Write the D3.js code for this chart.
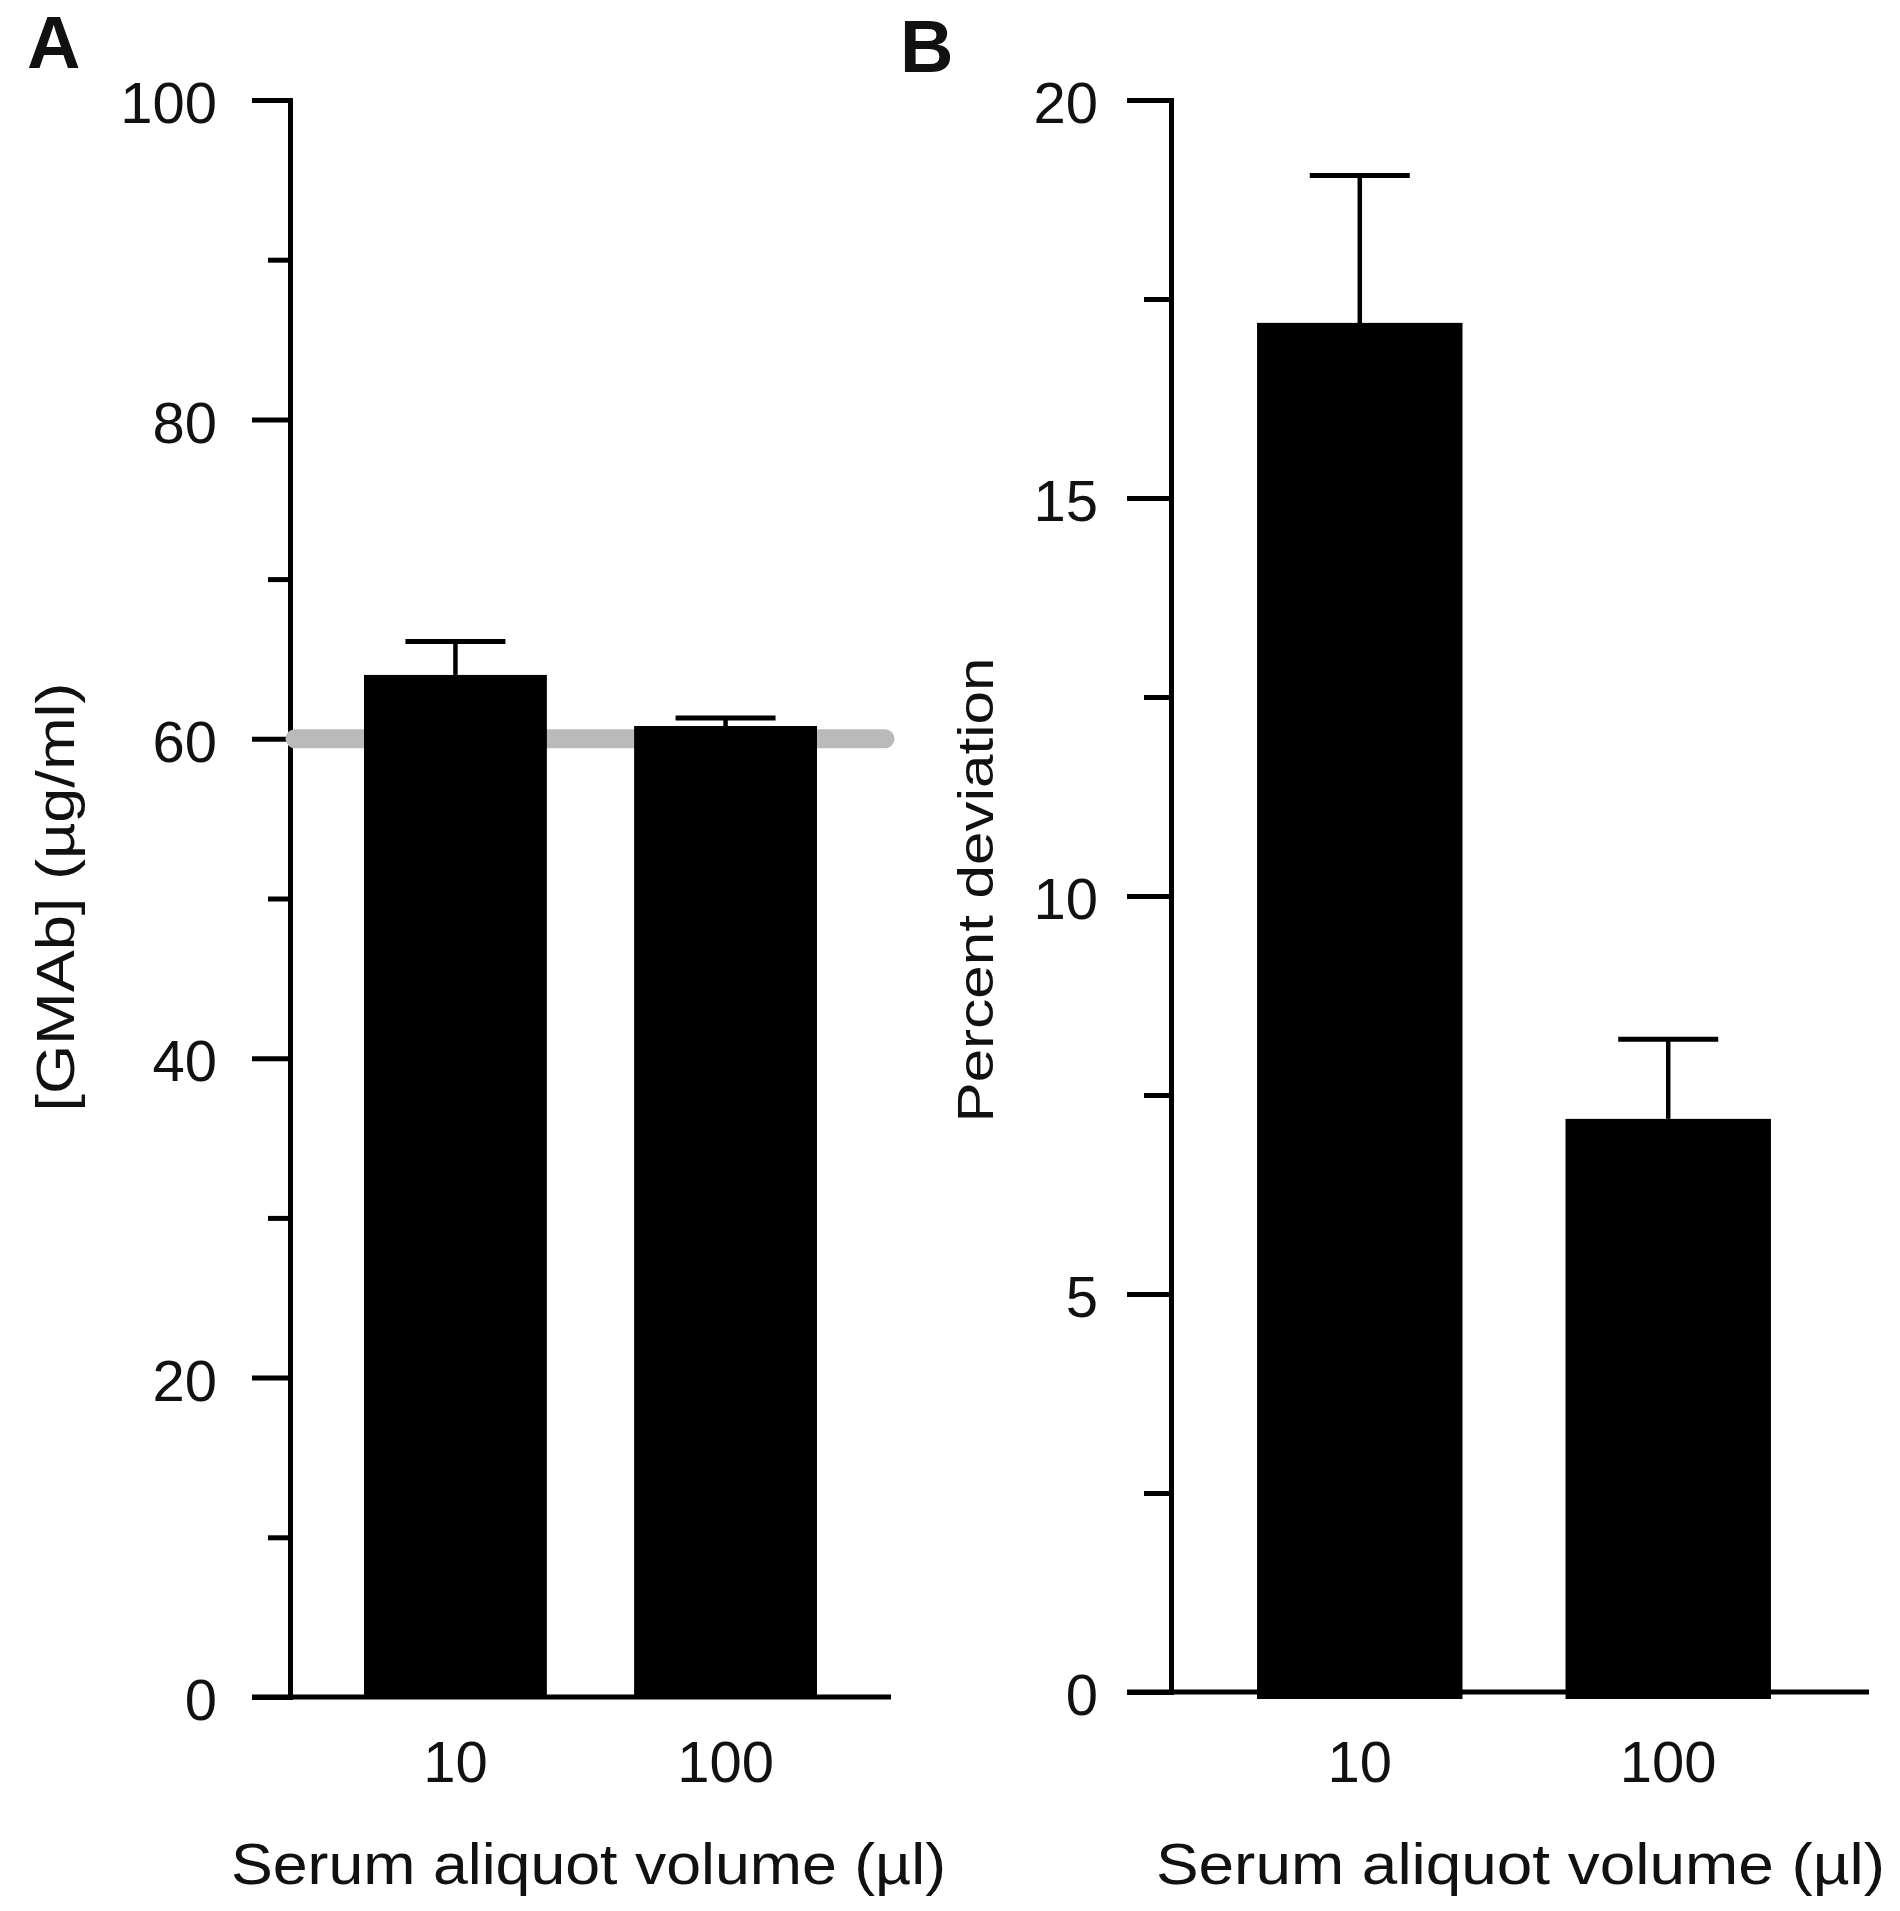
<!DOCTYPE html>
<html>
<head>
<meta charset="utf-8">
<script src="https://cdn.jsdelivr.net/npm/d3@7"></script>
<style>
  html, body { margin: 0; padding: 0; background: #ffffff; }
  svg { display: block; }
  text { font-family: "Liberation Sans", Arial, sans-serif; fill: #111; }
</style>
</head>
<body>
<script>
// ---------------- data ----------------
const categories = ["10", "100"];
const gmabMeans = [64.0, 60.8];
const gmabErrors = [2.1, 0.5];
const nominalConcentration = 60;
const deviationMeans = [17.2, 7.2];
const deviationErrors = [1.85, 1.0];
const yTicksA = [0, 20, 40, 60, 80, 100];
const yMinorTicksA = [10, 30, 50, 70, 90];
const yTicksB = [0, 5, 10, 15, 20];
const yMinorTicksB = [2.5, 7.5, 12.5, 17.5];
const xTitle = "Serum aliquot volume (\u00b5l)";
const yTitleA = "[GMAb] (\u00b5g/ml)";
const yTitleB = "Percent deviation";

// ---------------- layout ----------------
const W = 1900, H = 1911;
const svg = d3.select("body").append("svg").attr("width", W).attr("height", H);
svg.append("rect").attr("width", W).attr("height", H).attr("fill", "#ffffff");

const LW = 5;

function panel(cfg) {
  const g = svg.append("g");
  const x = d3.scaleBand().domain(categories).range(cfg.xRange)
    .paddingInner(cfg.padIn).paddingOuter(cfg.padOut);
  const y = d3.scaleLinear().domain(cfg.yDomain).range(cfg.yRange);

  // x baseline (extends left to act as 0 tick)
  g.append("line")
    .attr("x1", cfg.xRange[0] - cfg.majorLen).attr("x2", cfg.xLineEnd)
    .attr("y1", y(0)).attr("y2", y(0))
    .attr("stroke", "#000").attr("stroke-width", LW);

  // y axis major
  const ax = g.append("g").attr("transform", `translate(${cfg.xRange[0]},0)`)
    .call(d3.axisLeft(y).tickValues(cfg.major).tickSize(cfg.majorLen)
      .tickSizeOuter(0).tickPadding(cfg.labelPad).tickFormat(d3.format("d")));
  ax.select(".domain").attr("stroke", "#000").attr("stroke-width", LW).attr("stroke-linecap", "square");
  ax.selectAll(".tick line").attr("stroke", "#000").attr("stroke-width", LW);
  ax.selectAll(".tick text").attr("font-size", 58).attr("dy", "0.39em")
    .attr("font-family", "'Liberation Sans', Arial, sans-serif").attr("fill", "#111");

  // y axis minor
  const axm = g.append("g").attr("transform", `translate(${cfg.xRange[0]},0)`)
    .call(d3.axisLeft(y).tickValues(cfg.minor).tickSize(cfg.minorLen).tickSizeOuter(0).tickFormat(""));
  axm.select(".domain").remove();
  axm.selectAll(".tick line").attr("stroke", "#000").attr("stroke-width", LW);

  if (cfg.refLine !== undefined) {
    g.append("line")
      .attr("x1", cfg.xRange[0] + 5).attr("x2", cfg.xRange[1] - 6)
      .attr("y1", y(cfg.refLine)).attr("y2", y(cfg.refLine))
      .attr("stroke", "#bababa").attr("stroke-width", 19).attr("stroke-linecap", "round");
  }

  // bars
  g.selectAll("rect.bar").data(cfg.means).enter().append("rect")
    .attr("class", "bar")
    .attr("x", (d, i) => x(categories[i]))
    .attr("width", x.bandwidth())
    .attr("y", d => y(d))
    .attr("height", d => y(0) - y(d) + cfg.barBelow)
    .attr("fill", "#000");

  // error bars (upper only)
  const eb = g.selectAll("g.err").data(cfg.means).enter().append("g").attr("class", "err");
  eb.append("line")
    .attr("x1", (d, i) => x(categories[i]) + x.bandwidth() / 2)
    .attr("x2", (d, i) => x(categories[i]) + x.bandwidth() / 2)
    .attr("y1", d => y(d))
    .attr("y2", (d, i) => y(d + cfg.errs[i]))
    .attr("stroke", "#000").attr("stroke-width", 4.5);
  eb.append("line")
    .attr("x1", (d, i) => x(categories[i]) + x.bandwidth() / 2 - 50)
    .attr("x2", (d, i) => x(categories[i]) + x.bandwidth() / 2 + 50)
    .attr("y1", (d, i) => y(d + cfg.errs[i]))
    .attr("y2", (d, i) => y(d + cfg.errs[i]))
    .attr("stroke", "#000").attr("stroke-width", 5);

  // x tick labels
  g.selectAll("text.xl").data(categories).enter().append("text")
    .attr("class", "xl")
    .attr("x", d => x(d) + x.bandwidth() / 2)
    .attr("y", cfg.xLabelY)
    .attr("text-anchor", "middle")
    .attr("font-size", 58)
    .text(d => d);

  // x title
  g.append("text")
    .attr("x", cfg.xTitleX).attr("y", 1884)
    .attr("font-size", 58)
    .attr("textLength", cfg.xTitleLen).attr("lengthAdjust", "spacingAndGlyphs")
    .text(xTitle);

  // y title
  g.append("text")
    .attr("transform", `translate(${cfg.yTitleX},${cfg.yTitleY}) rotate(-90)`)
    .attr("text-anchor", "middle")
    .attr("font-size", cfg.yTitleSize)
    .attr("textLength", cfg.yTitleLen).attr("lengthAdjust", "spacingAndGlyphs")
    .text(cfg.yTitle);

  // panel letter
  g.append("text")
    .attr("x", cfg.letterX).attr("y", cfg.letterY)
    .attr("font-size", 74).attr("font-weight", "bold").attr("fill", "#000")
    .text(cfg.letter);
}

panel({
  xRange: [290, 891], padIn: 0.323, padOut: 0.274, xLineEnd: 891,
  yDomain: [0, 100], yRange: [1697, 100],
  major: yTicksA, minor: yMinorTicksA, majorLen: 38, minorLen: 22, labelPad: 35,
  means: gmabMeans, errs: gmabErrors, refLine: nominalConcentration, barBelow: 0,
  xLabelY: 1782, xTitleX: 231, xTitleLen: 715,
  yTitle: yTitleA, yTitleX: 74, yTitleY: 897, yTitleSize: 54, yTitleLen: 429,
  letter: "A", letterX: 27, letterY: 68
});

panel({
  xRange: [1171, 1857], padIn: 0.334, padOut: 0.279, xLineEnd: 1869,
  yDomain: [0, 20], yRange: [1692, 100],
  major: yTicksB, minor: yMinorTicksB, majorLen: 44, minorLen: 27, labelPad: 29,
  means: deviationMeans, errs: deviationErrors, barBelow: 7,
  xLabelY: 1782, xTitleX: 1156, xTitleLen: 729,
  yTitle: yTitleB, yTitleX: 993, yTitleY: 890, yTitleSize: 50, yTitleLen: 465,
  letter: "B", letterX: 900, letterY: 72
});
</script>
</body>
</html>
